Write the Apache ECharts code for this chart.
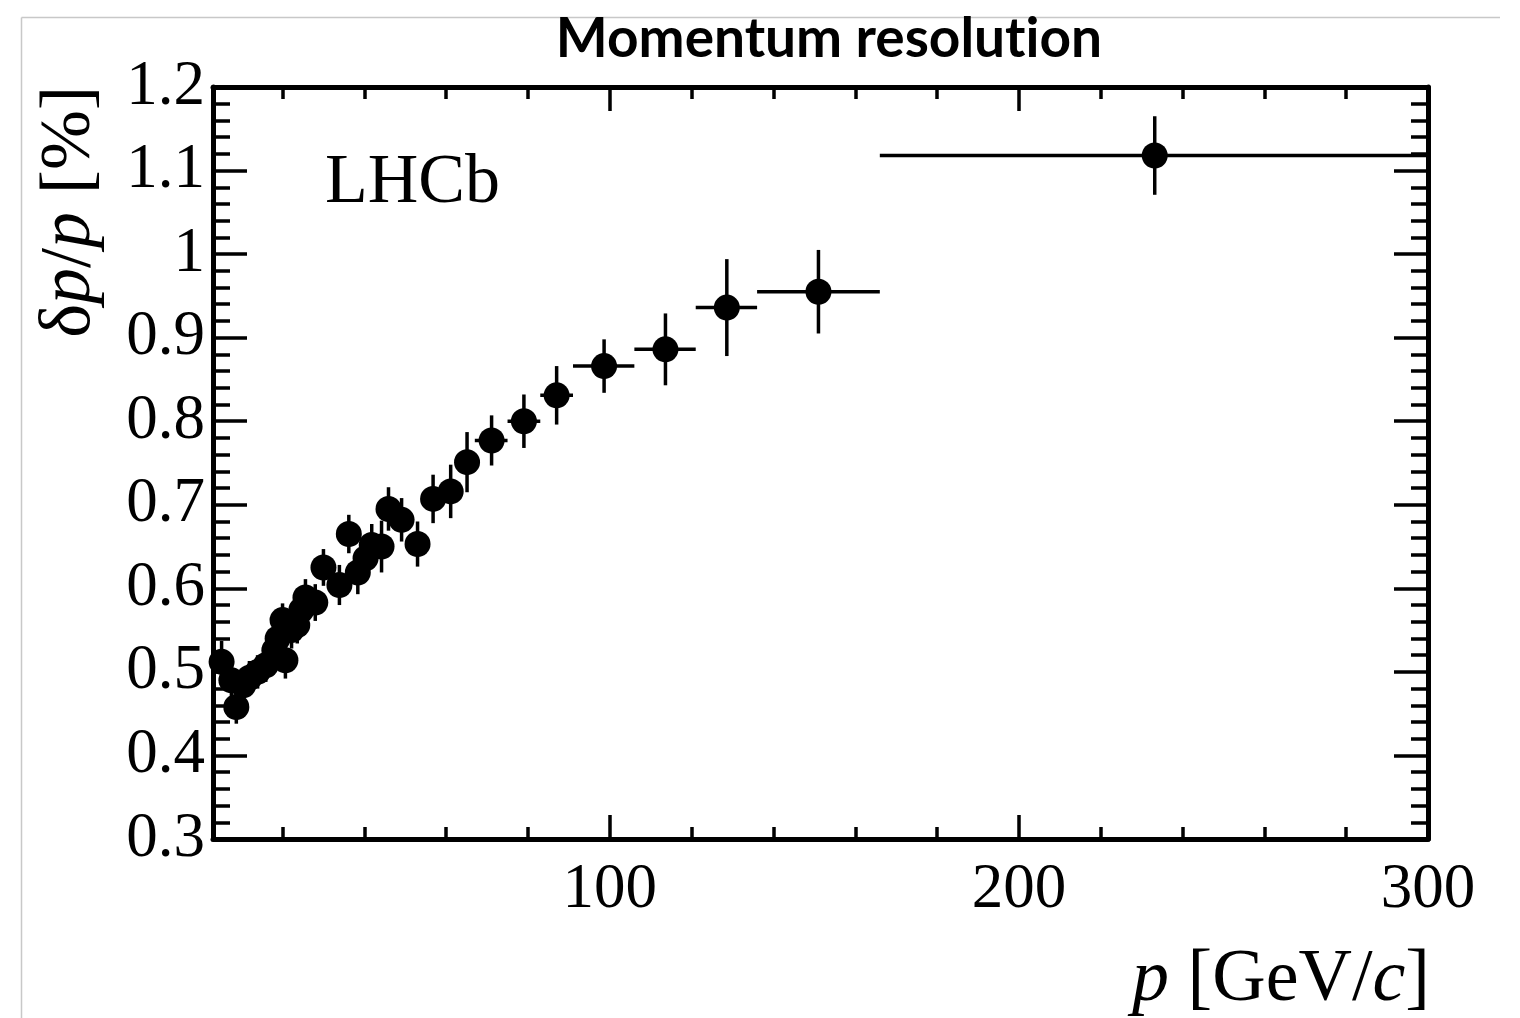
<!DOCTYPE html>
<html>
<head>
<meta charset="utf-8">
<script src="https://cdn.jsdelivr.net/npm/echarts@6/dist/echarts.min.js"></script>
<style>
html,body{margin:0;padding:0;background:#fff;}
#chart{width:1520px;height:1018px;}
</style>
</head>
<body>
<div id="chart"></div>
<script>
// ---- data ----
const momentum = [5.1, 7.5, 8.7, 10.4, 11.9, 13.9, 15.9, 18.0, 18.8, 20.0, 20.7, 22.2, 23.6, 24.6, 25.6, 28.0, 30.0, 33.9, 36.2, 38.4, 40.3, 41.8, 44.2, 45.9, 49.1, 53.0, 56.8, 61.1, 65.1, 71.1, 79.0, 87.0, 98.6, 113.6, 128.6, 151.0, 233.2];
const resolution = [0.512, 0.490, 0.458, 0.484, 0.493, 0.500, 0.508, 0.526, 0.540, 0.562, 0.514, 0.550, 0.556, 0.574, 0.589, 0.583, 0.625, 0.604, 0.665, 0.619, 0.636, 0.652, 0.650, 0.695, 0.682, 0.653, 0.707, 0.716, 0.751, 0.777, 0.800, 0.831, 0.866, 0.886, 0.936, 0.955, 1.118];
const resolutionErr = [0.025, 0.020, 0.020, 0.020, 0.020, 0.020, 0.020, 0.020, 0.020, 0.020, 0.022, 0.022, 0.022, 0.022, 0.022, 0.022, 0.022, 0.024, 0.023, 0.026, 0.025, 0.025, 0.031, 0.026, 0.026, 0.027, 0.029, 0.032, 0.036, 0.030, 0.032, 0.035, 0.032, 0.043, 0.058, 0.050, 0.047];
const binLow = [4.3, 6.8, 8.0, 9.7, 11.2, 13.2, 15.2, 17.3, 18.1, 19.3, 20.0, 21.5, 22.9, 23.9, 24.9, 27.0, 29.0, 32.9, 35.2, 37.4, 39.3, 40.8, 43.2, 44.9, 48.1, 51.5, 55, 59, 63, 67, 75, 83, 91, 106, 121, 136, 166];
const binHigh = [5.9, 8.2, 9.4, 11.1, 12.6, 14.6, 16.6, 18.7, 19.5, 20.7, 21.4, 22.9, 24.3, 25.3, 26.3, 29.0, 31.0, 34.9, 37.2, 39.4, 41.3, 42.8, 45.2, 46.9, 50.1, 54.5, 59, 63, 67, 75, 83, 91, 106, 121, 136, 166, 300];
const xMajorTicks = [100, 200, 300];
const xMinorTicks = [20, 40, 60, 80, 120, 140, 160, 180, 220, 240, 260, 280];
const xMin = 3, xMax = 300;
const yMin = 0.3, yMax = 1.2, yStep = 0.1;

const pointData = momentum.map((p, i) => [p, resolution[i]]);
const errData = momentum.map((p, i) => [p, resolution[i], binLow[i], binHigh[i], resolutionErr[i]]);

const serif = '"Liberation Serif", "DejaVu Serif", serif';
const tickW = 3.5;

function xAxisDef(pos, ticks, len, showLine, showLabel) {
  return {
    type: 'value', position: pos, min: xMin, max: xMax,
    axisLine: {show: showLine, onZero: false, lineStyle: {color: '#000', width: 5}},
    axisTick: {show: true, inside: true, length: len, customValues: ticks, lineStyle: {color: '#000', width: tickW}},
    axisLabel: {show: showLabel, customValues: ticks, color: '#000', fontFamily: serif, fontSize: 63, margin: 20},
    splitLine: {show: false}
  };
}
function yAxisDef(pos, showLabel) {
  return {
    type: 'value', position: pos, min: yMin, max: yMax, interval: yStep,
    axisLine: {show: true, onZero: false, lineStyle: {color: '#000', width: 5}},
    axisTick: {show: true, inside: true, length: 34, lineStyle: {color: '#000', width: tickW}},
    minorTick: {show: true, splitNumber: 5, length: 17, lineStyle: {color: '#000', width: tickW}},
    axisLabel: {show: showLabel, color: '#000', fontFamily: serif, fontSize: 63, margin: 8,
      formatter: v => String(Math.round(v * 10) / 10)},
    splitLine: {show: false}, minorSplitLine: {show: false}
  };
}

const titleFont = 'Lato, "Open Sans", sans-serif';
const chart = echarts.init(document.getElementById('chart'), null, {renderer: 'canvas'});
chart.setOption({
  backgroundColor: '#fff',
  animation: false,
  grid: {left: 213, top: 87, right: 92, bottom: 179, containLabel: false},
  xAxis: [
    xAxisDef('bottom', xMajorTicks, 24, true, true),
    xAxisDef('bottom', xMinorTicks, 12, false, false),
    xAxisDef('top', xMajorTicks, 24, true, false),
    xAxisDef('top', xMinorTicks, 12, false, false)
  ],
  yAxis: [yAxisDef('left', true), yAxisDef('right', false)],
  graphic: [
    {type: 'line', shape: {x1: 21.5, y1: 17.5, x2: 1500, y2: 17.5}, style: {stroke: '#c8c8c8', lineWidth: 1.5}, silent: true},
    {type: 'line', shape: {x1: 21.5, y1: 17.5, x2: 21.5, y2: 1018}, style: {stroke: '#c8c8c8', lineWidth: 1.5}, silent: true},
    {type: 'text', x: 829, y: 39, style: {
      text: 'Momentum resolu{s|t}ion', font: 'bold 55px ' + titleFont, fill: '#000', align: 'center', verticalAlign: 'middle',
      rich: {s: {fontWeight: 'bold', fontFamily: titleFont, fontSize: 55, fill: '#000'}}}},
    {type: 'text', x: 325, y: 184, style: {text: 'LHCb', font: '70px ' + serif, fill: '#000', align: 'left', verticalAlign: 'middle'}},
    {type: 'text', x: 1430, y: 981, style: {
      text: '{i|p} [GeV/{i|c}]', font: '74px ' + serif, fill: '#000', align: 'right', verticalAlign: 'middle',
      rich: {i: {fontStyle: 'italic', fontFamily: serif, fontSize: 74, fill: '#000'}}}},
    {type: 'text', x: 70, y: 86, rotation: Math.PI / 2, style: {
      text: 'δ{i|p}/{i|p} [%]', font: '72px ' + serif, fill: '#000', align: 'right', verticalAlign: 'middle',
      rich: {i: {fontStyle: 'italic', fontFamily: serif, fontSize: 72, fill: '#000'}}}}
  ],
  series: [
    {
      type: 'custom', xAxisIndex: 0, yAxisIndex: 0, data: errData, clip: true,
      renderItem: function (params, api) {
        const x = api.value(0), y = api.value(1), lo = api.value(2), hi = api.value(3), e = api.value(4);
        const c = api.coord([x, y]);
        const l = api.coord([lo, y]);
        const h = api.coord([hi, y]);
        const t = api.coord([x, y + e]);
        const b = api.coord([x, y - e]);
        return {type: 'group', children: [
          {type: 'line', shape: {x1: l[0], y1: c[1], x2: h[0], y2: c[1]}, style: {stroke: '#000', lineWidth: 3.5}},
          {type: 'line', shape: {x1: c[0], y1: t[1], x2: c[0], y2: b[1]}, style: {stroke: '#000', lineWidth: 3.5}}
        ]};
      }
    },
    {
      type: 'scatter', xAxisIndex: 0, yAxisIndex: 0, data: pointData,
      symbol: 'circle', symbolSize: 26, itemStyle: {color: '#000', opacity: 1}
    }
  ]
});
</script>
</body>
</html>
